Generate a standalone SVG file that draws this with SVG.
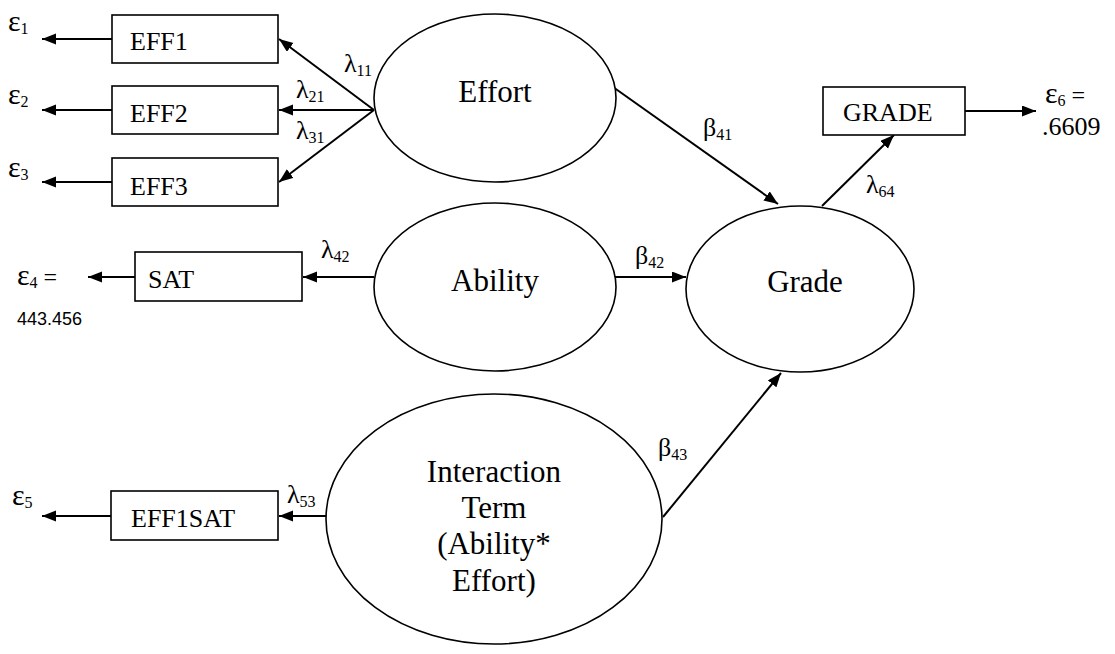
<svg xmlns="http://www.w3.org/2000/svg" width="1115" height="654" viewBox="0 0 1115 654">
<style>
.box{fill:#fff;stroke:#000;stroke-width:1.6}
.ell{fill:#fff;stroke:#000;stroke-width:1.6}
.con{fill:none;stroke:#000;stroke-width:2}
.bl{font-family:"Liberation Serif",serif;font-size:26px;fill:#000}
.el{font-family:"Liberation Serif",serif;font-size:31px;fill:#000;text-anchor:middle}
.gr{font-family:"Liberation Serif",serif;font-size:26px;fill:#000}
.ep{font-family:"Liberation Serif",serif;font-size:30px;fill:#000}
.sub{font-size:16px}
.eq{font-size:24px}
.num{font-family:"Liberation Sans",sans-serif;font-size:18px;fill:#000}
</style>
<defs>
<marker id="ah" markerUnits="userSpaceOnUse" markerWidth="15" markerHeight="12" refX="14" refY="5.5" orient="auto">
<path d="M0,0 L14,5.5 L0,11 z" fill="#000"/>
</marker>
</defs>
<g id="connectors">
<line class="con" x1="374" y1="110" x2="279" y2="39" marker-end="url(#ah)"/>
<line class="con" x1="374" y1="110" x2="279" y2="110" marker-end="url(#ah)"/>
<line class="con" x1="374" y1="110" x2="279" y2="182" marker-end="url(#ah)"/>
<line class="con" x1="112" y1="39" x2="42" y2="39" marker-end="url(#ah)"/>
<line class="con" x1="112" y1="110" x2="42" y2="110" marker-end="url(#ah)"/>
<line class="con" x1="112" y1="182" x2="42" y2="182" marker-end="url(#ah)"/>
<line class="con" x1="374" y1="277" x2="303" y2="277" marker-end="url(#ah)"/>
<line class="con" x1="135" y1="277" x2="88" y2="277" marker-end="url(#ah)"/>
<line class="con" x1="615" y1="277" x2="686" y2="277" marker-end="url(#ah)"/>
<line class="con" x1="613" y1="87" x2="778" y2="204" marker-end="url(#ah)"/>
<line class="con" x1="822" y1="206" x2="894" y2="135" marker-end="url(#ah)"/>
<line class="con" x1="965" y1="111" x2="1036" y2="111" marker-end="url(#ah)"/>
<line class="con" x1="663" y1="517" x2="781" y2="373" marker-end="url(#ah)"/>
<line class="con" x1="326" y1="516" x2="279" y2="516" marker-end="url(#ah)"/>
<line class="con" x1="111" y1="516" x2="42" y2="516" marker-end="url(#ah)"/>
</g>
<g id="EFF1"><rect class="box" x="112" y="15" width="166" height="48"/><text class="bl" x="130" y="50">EFF1</text></g>
<g id="EFF2"><rect class="box" x="112" y="86" width="166" height="48"/><text class="bl" x="130" y="122">EFF2</text></g>
<g id="EFF3"><rect class="box" x="112" y="158" width="166" height="48"/><text class="bl" x="130" y="195">EFF3</text></g>
<g id="SAT"><rect class="box" x="135" y="252" width="167" height="49"/><text class="bl" x="148" y="288">SAT</text></g>
<g id="EFF1SAT"><rect class="box" x="111" y="491" width="167" height="49"/><text class="bl" x="131" y="527">EFF1SAT</text></g>
<g id="GRADE"><rect class="box" x="823" y="87" width="142" height="48"/><text class="bl" x="843" y="121">GRADE</text></g>
<g id="Effort"><ellipse class="ell" cx="495" cy="98" rx="121" ry="84"/><text class="el" x="495" y="102">Effort</text></g>
<g id="Ability"><ellipse class="ell" cx="495" cy="287" rx="121" ry="84"/><text class="el" x="495" y="291">Ability</text></g>
<g id="Grade"><ellipse class="ell" cx="800" cy="289" rx="114" ry="83"/><text class="el" x="805" y="292">Grade</text></g>
<g id="Interaction"><ellipse class="ell" cx="494" cy="519" rx="168" ry="125"/>
<text class="el" x="494" y="482">Interaction</text>
<text class="el" x="494" y="518">Term</text>
<text class="el" x="494" y="554">(Ability*</text>
<text class="el" x="494" y="591">Effort)</text></g>
<g id="labels">
<text class="gr" x="344" y="72">λ<tspan class="sub" dy="4">11</tspan></text>
<text class="gr" x="296" y="98">λ<tspan class="sub" dy="4">21</tspan></text>
<text class="gr" x="296" y="139">λ<tspan class="sub" dy="4">31</tspan></text>
<text class="gr" x="321" y="258">λ<tspan class="sub" dy="4">42</tspan></text>
<text class="gr" x="287" y="503">λ<tspan class="sub" dy="4">53</tspan></text>
<text class="gr" x="866" y="193">λ<tspan class="sub" dy="4">64</tspan></text>
<text class="gr" x="703" y="136">β<tspan class="sub" dy="4">41</tspan></text>
<text class="gr" x="635" y="264">β<tspan class="sub" dy="4">42</tspan></text>
<text class="gr" x="658" y="456">β<tspan class="sub" dy="4">43</tspan></text>
<text class="ep" x="8" y="31">ε<tspan class="sub" dy="3">1</tspan></text>
<text class="ep" x="8" y="104">ε<tspan class="sub" dy="3">2</tspan></text>
<text class="ep" x="8" y="177">ε<tspan class="sub" dy="3">3</tspan></text>
<text class="ep" x="17" y="285">ε<tspan class="sub" dy="3">4</tspan><tspan class="eq" dy="-3"> =</tspan></text>
<text class="num" x="17" y="325">443.456</text>
<text class="ep" x="12" y="505">ε<tspan class="sub" dy="3">5</tspan></text>
<text class="ep" x="1045" y="103">ε<tspan class="sub" dy="3">6</tspan><tspan class="eq" dy="-3"> =</tspan></text>
<text class="gr" x="1042" y="135" font-size="23">.6609</text>
</g>
</svg>
